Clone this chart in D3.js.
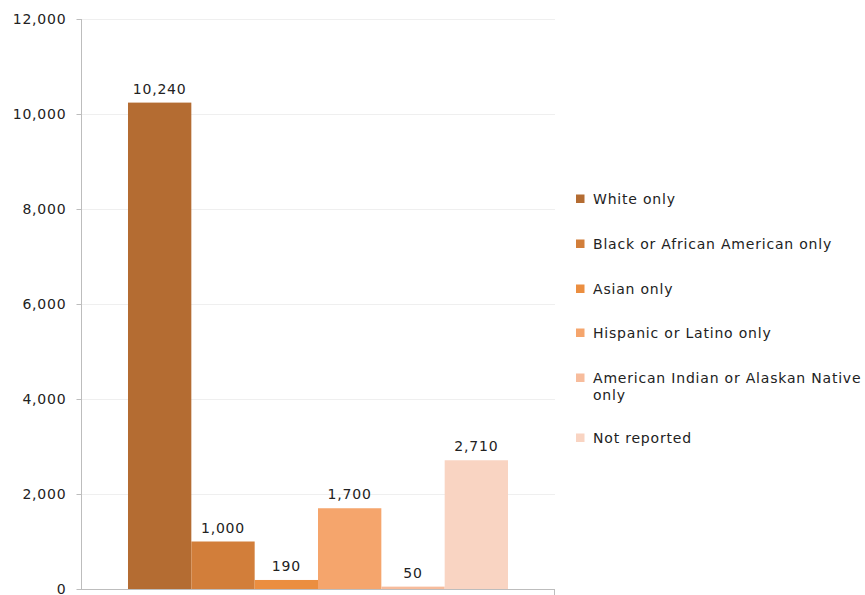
<!DOCTYPE html>
<html><head><meta charset="utf-8">
<script src="https://cdn.jsdelivr.net/npm/d3@7"></script>
<style>
body{margin:0;background:#fff;}
text{font-family:"DejaVu Sans",Verdana,sans-serif;fill:#222;letter-spacing:0.8px;}
</style></head>
<body><svg id="c" width="865" height="595"></svg>
<script>
const series = ["White only","Black or African American only","Asian only","Hispanic or Latino only","American Indian or Alaskan Native only","Not reported"];
const values = [10240,1000,190,1700,50,2710];
const colors = ["#B46C32","#D27E3A","#EB8E40","#F5A56C","#F7BC9C","#F9D4C2"];
const yTicks = [0,2000,4000,6000,8000,10000,12000];
const legendLines = [["White only"],["Black or African American only"],["Asian only"],["Hispanic or Latino only"],["American Indian or Alaskan Native","only"],["Not reported"]];

const svg = d3.select("#c");
const mLeft = 81, mRight = 555, mTop = 19, mBottom = 589;
const y = d3.scaleLinear().domain([0,12000]).range([mBottom,mTop]);
const x = d3.scaleBand().domain(series).range([mLeft,mRight]).paddingInner(0).paddingOuter(0.742);
const fmt = d3.format(",");

// gridlines
svg.append("g").selectAll("line").data(yTicks.filter(d=>d>0)).join("line")
  .attr("x1",mLeft).attr("x2",mRight).attr("y1",d=>Math.round(y(d))+0.5).attr("y2",d=>Math.round(y(d))+0.5)
  .attr("stroke","#EFEFEF").attr("stroke-width",1);

// bars
svg.append("g").selectAll("rect").data(series).join("rect")
  .attr("x",d=>x(d)).attr("width",x.bandwidth())
  .attr("y",(d,i)=>y(values[i])).attr("height",(d,i)=>mBottom-y(values[i]))
  .attr("fill",(d,i)=>colors[i]);

// value labels
svg.append("g").selectAll("text").data(series).join("text")
  .attr("x",d=>x(d)+x.bandwidth()/2).attr("y",(d,i)=>y(values[i])-9)
  .attr("text-anchor","middle").attr("font-size","14px")
  .text((d,i)=>fmt(values[i]));

// y axis
const ya = svg.append("g").attr("transform",`translate(${mLeft+0.5},0)`)
  .call(d3.axisLeft(y).tickValues(yTicks).tickFormat(fmt).tickSize(5).tickPadding(10));
ya.select(".domain").attr("stroke","#BDBDBD").attr("d",`M0,${mBottom}V${mTop}`);
ya.selectAll(".tick line").attr("stroke","#BDBDBD");
ya.selectAll(".tick text").attr("font-size","14px").attr("fill","#222").style("font-family","'DejaVu Sans',Verdana,sans-serif");

// x axis line
svg.append("line").attr("x1",mLeft).attr("x2",mRight).attr("y1",mBottom+0.5).attr("y2",mBottom+0.5).attr("stroke","#BDBDBD");
svg.append("line").attr("x1",mRight-0.5).attr("x2",mRight-0.5).attr("y1",mBottom).attr("y2",mBottom+6).attr("stroke","#BDBDBD");

// legend
const legYs = [198,243,288,332,377,437];
const lg = svg.append("g");
legendLines.forEach((lines,i)=>{
  lg.append("rect").attr("x",576).attr("y",legYs[i]-3.5).attr("width",8.5).attr("height",8.5).attr("fill",colors[i]);
  const t = lg.append("text").attr("x",593).attr("y",legYs[i]+6).attr("font-size","14px");
  lines.forEach((l,j)=>t.append("tspan").attr("x",593).attr("dy",j===0?0:17).text(l));
});
</script></body></html>
